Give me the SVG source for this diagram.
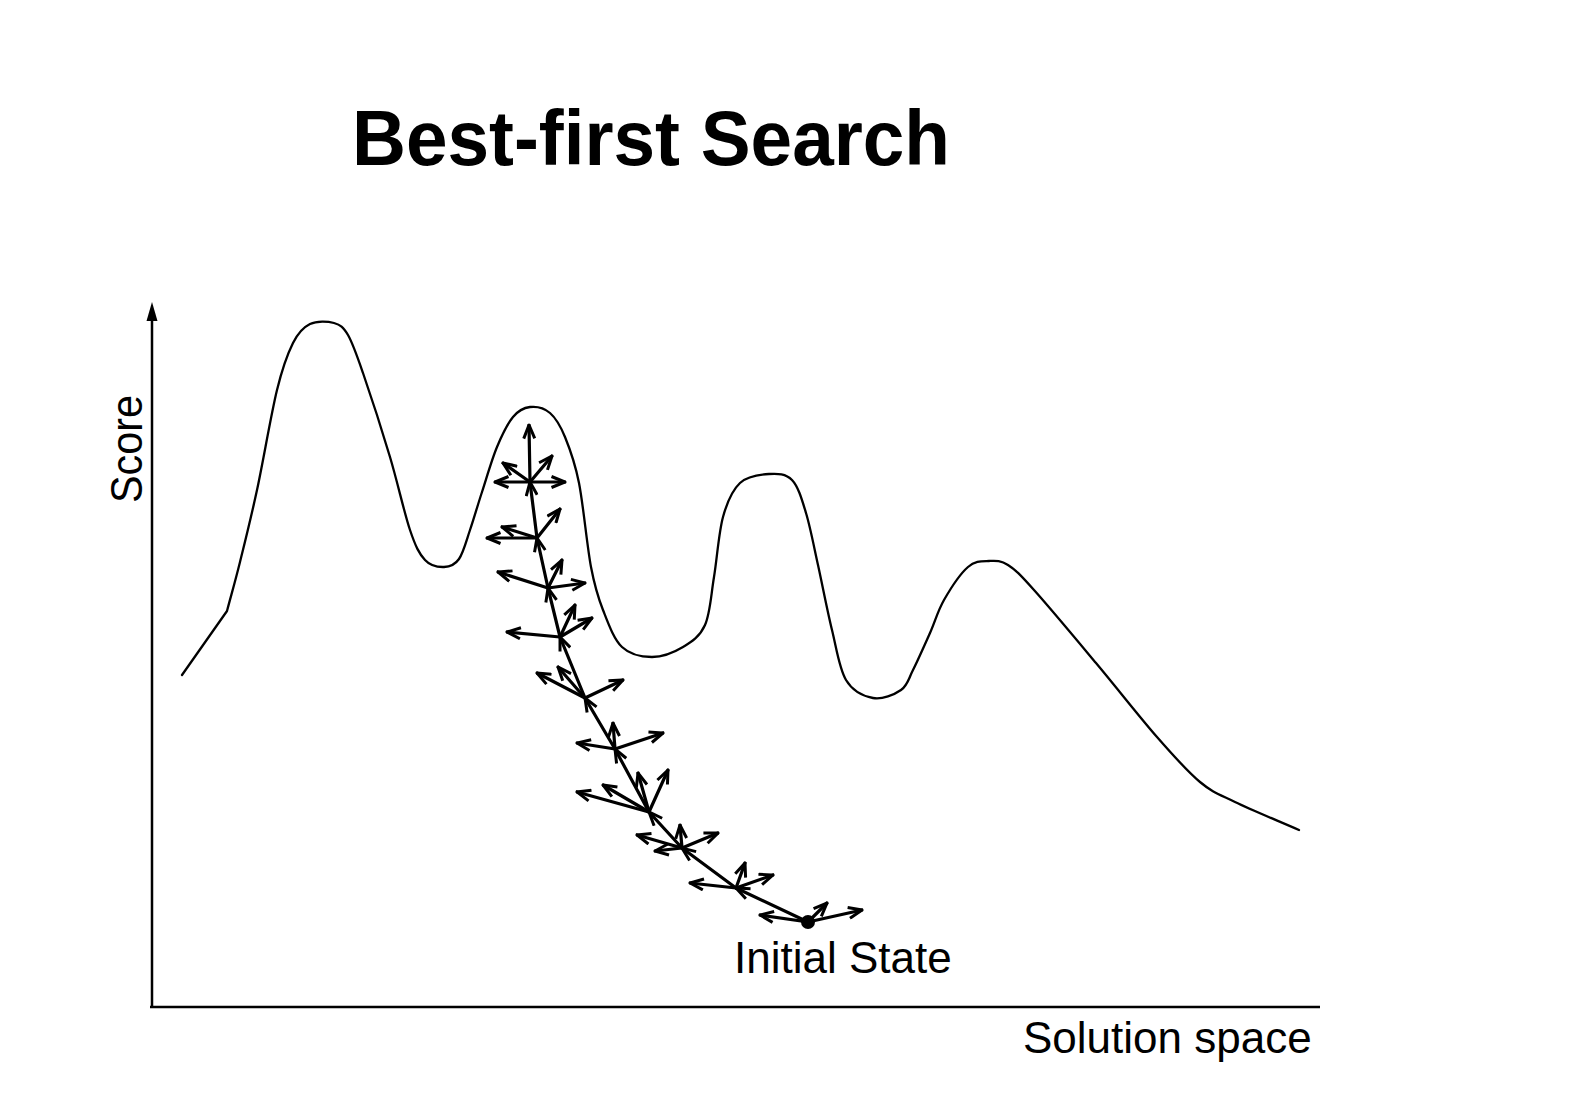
<svg xmlns="http://www.w3.org/2000/svg" width="1584" height="1120" viewBox="0 0 1584 1120">
  <style>
    .txt { font-family: "Liberation Sans", Arial, sans-serif; fill: #000; }
    .curve { fill: none; stroke: #000; stroke-width: 2.3; stroke-linejoin: round; stroke-linecap: round; }
    .axis { fill: none; stroke: #000; stroke-width: 2.5; }
    .arr { fill: none; stroke: #000; stroke-width: 3.2; stroke-linecap: round; marker-end: url(#ah); }
  </style>
  <defs>
    <marker id="ah" viewBox="0 0 16 14" refX="15" refY="7" markerWidth="16" markerHeight="14" orient="auto" markerUnits="userSpaceOnUse">
      <path d="M1.5,1.5 L15,7 L1.5,12.5" fill="none" stroke="#000" stroke-width="3" stroke-linejoin="miter"/>
    </marker>
  </defs>
  <rect width="1584" height="1120" fill="#fff"/>

  <text id="title" class="txt" x="352" y="165" font-size="77" font-weight="bold" textLength="598" lengthAdjust="spacingAndGlyphs">Best-first Search</text>

  <g id="axes">
    <line class="axis" x1="152" y1="1007" x2="152" y2="318"/>
    <polygon points="152,302 146.5,321 157.5,321" fill="#000"/>
    <line class="axis" x1="150" y1="1007" x2="1320" y2="1007"/>
    <text class="txt" font-size="44" transform="translate(142,503) rotate(-90)" textLength="108" lengthAdjust="spacingAndGlyphs">Score</text>
    <text class="txt" x="1023" y="1053" font-size="44">Solution space</text>
  </g>

  <g id="landscape">
    <path class="curve" d="M182,675 L227,611
      C231.3,594.7 235,582.2 240,562
      C245,541.8 250.8,518.7 257,490
      C263.2,461.3 271,414.5 277,390
      C283,365.5 287.5,354 293,343
      C298.5,332 303.2,327.3 310,324
      C316.8,320.7 327.7,321.2 334,323
      C340.3,324.8 343.2,326.7 348,335
      C352.8,343.3 356,352.7 363,373
      C370,393.3 382.2,430.8 390,457
      C397.8,483.2 404.2,512.8 410,530
      C415.8,547.2 419.3,553.8 425,560
      C430.7,566.2 438.3,567.2 444,567
      C449.7,566.8 454.7,565.2 459,559
      C463.3,552.8 466.2,541.2 470,530
      C473.8,518.8 477.5,505.8 482,492
      C486.5,478.2 491.8,459.5 497,447
      C502.2,434.5 507.5,423.7 513,417
      C518.5,410.3 523.8,407.7 530,407
      C536.2,406.3 544.2,408 550,413
      C555.8,418 560.2,425.3 565,437
      C569.8,448.7 574.7,461.3 579,483
      C583.3,504.7 587,545.8 591,567
      C595,588.2 597.8,596.7 603,610
      C608.2,623.3 613.8,639.2 622,647
      C630.2,654.8 641.8,657 652,657
      C662.2,657 674.2,652.3 683,647
      C691.8,641.7 699.8,636.7 705,625
      C710.2,613.3 711,595 714,577
      C717,559 718.7,532.7 723,517
      C727.3,501.3 732.3,490.2 740,483
      C747.7,475.8 760.3,474.5 769,474
      C777.7,473.5 785.8,473.5 792,480
      C798.2,486.5 801.7,498.8 806,513
      C810.3,527.2 813.7,545.5 818,565
      C822.3,584.5 827.3,610.8 832,630
      C836.7,649.2 839.2,668.7 846,680
      C852.8,691.3 863.8,696.3 873,698
      C882.2,699.7 894.3,694.7 901,690
      C907.7,685.3 908.2,679.5 913,670
      C917.8,660.5 924.8,644.7 930,633
      C935.2,621.3 937.7,611 944,600
      C950.3,589 960.5,573.5 968,567
      C975.5,560.5 982.3,561.3 989,561
      C995.7,560.7 1000.5,560.2 1008,565
      C1015.5,569.8 1019.3,573.7 1034,590
      C1048.7,606.3 1075.5,638.5 1096,663
      C1116.5,687.5 1139.7,717.2 1157,737
      C1174.3,756.8 1187,771.2 1200,782
      C1213,792.8 1218.5,794 1235,802
      C1251.5,810 1277.7,820.7 1299,830"/>
  </g>

  <g id="search-path">
    <line class="arr" x1="808" y1="922" x2="736" y2="888"/>
    <line class="arr" x1="736" y1="888" x2="682" y2="848"/>
    <line class="arr" x1="682" y1="848" x2="649" y2="812"/>
    <line class="arr" x1="649" y1="812" x2="615" y2="749"/>
    <line class="arr" x1="615" y1="749" x2="585" y2="698"/>
    <line class="arr" x1="585" y1="698" x2="560" y2="637"/>
    <line class="arr" x1="560" y1="637" x2="548" y2="588"/>
    <line class="arr" x1="548" y1="588" x2="537" y2="538"/>
    <line class="arr" x1="537" y1="538" x2="530" y2="482"/>
    <line class="arr" x1="530" y1="482" x2="529" y2="425"/>
  </g>

  <g id="expansions">
    <!-- N0 -->
    <line class="arr" x1="808" y1="922" x2="760" y2="915"/>
    <line class="arr" x1="808" y1="922" x2="827" y2="903"/>
    <line class="arr" x1="808" y1="922" x2="862" y2="910"/>
    <!-- N1 -->
    <line class="arr" x1="736" y1="888" x2="690" y2="883"/>
    <line class="arr" x1="736" y1="888" x2="745" y2="863"/>
    <line class="arr" x1="736" y1="888" x2="773" y2="875"/>
    <!-- N2 -->
    <line class="arr" x1="682" y1="848" x2="637" y2="835"/>
    <line class="arr" x1="682" y1="848" x2="655" y2="851"/>
    <line class="arr" x1="682" y1="848" x2="680" y2="825"/>
    <line class="arr" x1="682" y1="848" x2="718" y2="833"/>
    <!-- N3 -->
    <line class="arr" x1="649" y1="812" x2="577" y2="792"/>
    <line class="arr" x1="649" y1="812" x2="603" y2="785"/>
    <line class="arr" x1="649" y1="812" x2="638" y2="773"/>
    <line class="arr" x1="649" y1="812" x2="668" y2="770"/>
    <!-- N4 -->
    <line class="arr" x1="615" y1="749" x2="577" y2="743"/>
    <line class="arr" x1="615" y1="749" x2="613" y2="723"/>
    <line class="arr" x1="615" y1="749" x2="663" y2="733"/>
    <!-- N5 -->
    <line class="arr" x1="585" y1="698" x2="537" y2="673"/>
    <line class="arr" x1="585" y1="698" x2="558" y2="667"/>
    <line class="arr" x1="585" y1="698" x2="623" y2="680"/>
    <!-- N6 -->
    <line class="arr" x1="560" y1="637" x2="507" y2="632"/>
    <line class="arr" x1="560" y1="637" x2="575" y2="605"/>
    <line class="arr" x1="560" y1="637" x2="592" y2="618"/>
    <!-- N7 -->
    <line class="arr" x1="548" y1="588" x2="498" y2="572"/>
    <line class="arr" x1="548" y1="588" x2="562" y2="560"/>
    <line class="arr" x1="548" y1="588" x2="585" y2="583"/>
    <!-- N8 -->
    <line class="arr" x1="537" y1="538" x2="487" y2="538"/>
    <line class="arr" x1="537" y1="538" x2="502" y2="527"/>
    <line class="arr" x1="537" y1="538" x2="560" y2="509"/>
    <!-- N9 -->
    <line class="arr" x1="530" y1="482" x2="495" y2="482"/>
    <line class="arr" x1="530" y1="482" x2="565" y2="482"/>
    <line class="arr" x1="530" y1="482" x2="503" y2="463"/>
    <line class="arr" x1="530" y1="482" x2="552" y2="456"/>
  </g>

  <g id="initial-state">
    <circle cx="808" cy="922" r="7" fill="#000"/>
    <text class="txt" x="734" y="973" font-size="44">Initial State</text>
  </g>
</svg>
